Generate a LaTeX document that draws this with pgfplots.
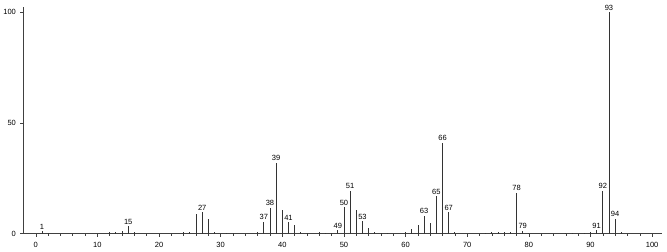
\documentclass[border=0pt]{standalone}
\usepackage{pgfplots}
\pgfplotsset{compat=1.18}
\usepackage{pgfplotstable}
\usepackage{fontspec}
\setmainfont{Liberation Sans}
\pgfplotstableread{
mz  int
1   1.0
2   0.3
12  0.5
13  0.8
14  1.2
15  3.3
16  0.5
24  0.5
25  0.8
26  8.7
27  9.7
28  6.8
29  0.8
31  0.4
32  0.4
36  0.5
37  5.2
38  11.6
39  32.0
40  10.7
41  5.2
42  3.8
43  0.6
44  0.4
46  0.5
47  0.4
48  0.4
49  1.5
50  11.9
51  19.3
52  10.7
53  5.6
54  2.7
55  0.6
56  0.3
57  0.3
60  0.5
61  2.1
62  3.8
63  7.9
64  4.6
65  16.9
66  41.0
67  9.7
68  0.6
73  0.4
74  0.5
75  0.5
76  0.7
77  0.6
78  18.4
79  1.2
80  0.3
86  0.3
87  0.4
89  0.4
90  0.5
91  1.4
92  19.3
93  100.0
94  6.8
95  0.5
}\spectrum
\pgfplotstableread{
mz  int   lab
1   1.0   1
15  3.3   15
27  9.7   27
37  5.2   37
38  11.6  38
39  32.0  39
41  5.2   41
49  1.5   49
50  11.9  50
51  19.3  51
53  5.6   53
63  7.9   63
65  16.9  65
66  41.0  66
67  9.7   67
78  18.4  78
79  1.2   79
91  1.4   91
92  19.3  92
93  100.0 93
94  6.8   94
}\labels
\begin{document}
\begin{tikzpicture}
\begin{axis}[
  scale only axis,
  width=637pt, height=226pt,
  xmin=-2, xmax=101.6,
  ymin=0, ymax=102.3,
  axis x line=bottom, axis y line=left,
  axis line style={-, black!75, line width=0.6pt},
  xtick={0,10,...,100},
  minor x tick num=4,
  ytick={0,50,100},
  tick align=outside,
  major tick length=3pt,
  minor tick length=2pt,
  tick style={black!75, line width=0.5pt},
  tick label style={font=\fontsize{7.5}{8}\selectfont},
  xticklabel style={yshift=-2.5pt},
  yticklabel style={xshift=-1pt},
  /pgf/number format/assume math mode=true,
  clip=false,
  extra description/.code={\path (1,1) ++(5pt,7pt);},
]
\addplot[ycomb, black!80, line width=0.8pt, mark=none] table[x=mz, y=int] {\spectrum};
\addplot[draw=none, mark=none, nodes near coords, point meta=explicit symbolic,
  nodes near coords style={font=\fontsize{7.5}{8}\selectfont, anchor=south, inner sep=1.8pt}]
  table[x=mz, y=int, meta=lab] {\labels};
\end{axis}
\end{tikzpicture}
\end{document}
